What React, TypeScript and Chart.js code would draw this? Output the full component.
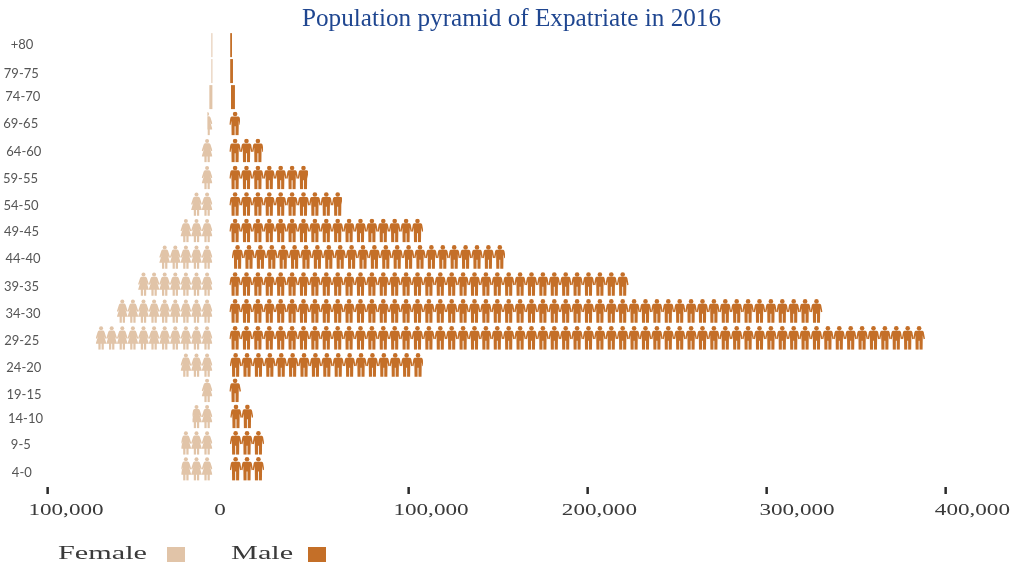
import React, { useEffect, useRef } from "react";
import { Chart, registerables } from "chart.js";

Chart.register(...registerables);

const ageGroups = ["+80","79-75","74-70","69-65","64-60","59-55","54-50","49-45","44-40","39-35","34-30","29-25","24-20","19-15","14-10","9-5","4-0"];
const femaleValues = [550,550,1700,2800,6100,6100,12300,18000,30100,41800,54000,65200,17800,6100,11100,17300,17300];
const maleValues = [1000,1550,2200,5900,18800,43900,62900,108200,152600,223800,332100,389200,107900,6500,12700,19000,19000];
const femaleGap = [-9500,-9500,-9500,-9500,-9500,-9500,-9500,-9500,-9500,-9500,-9500,-9500,-9500,-9500,-9500,-9500,-9500];
const maleGap = [450,450,900,0,0,0,0,0,1400,0,0,0,300,0,500,300,300];
const xTickValues = [-100000,0,100000,200000,300000,400000];

const xTickNudge = [-3,0,0,0,0,0];
const xLabelNudge = [15.6,-9.4,22.6,12,30.6,27];
const yLabelCentre = [22,21.3,22.8,20.7,23.8,20.5,21,21.5,23,21.5,23,21.7,23.8,24,25.5,20.8,21.8];
const yLabelNudge = [-0.7,1.8,-1.7,-0.7,0.8,1,1.5,1,1.5,3.1,3.6,4.5,4.5,5.2,2.8,2.3,3.8];
const rowNudge = [-0.5,-1,-1.4,-1.4,-0.9,-0.4,-0.3,-0.3,-0.3,0.3,0.8,1.3,1.9,0.9,0.5,0.5,0];

const FEMALE = "#e1c4a8";
const MALE = "#c46f28";
const INK = "#3a3a3a";
const malePitch = 11.4;
const femalePitch = 10.6;
const solidBelowPx = 4.5;

const maleBody = "M-3.4 4.6L3.4 4.6Q4.4 4.7 4.7 6L5.9 12.6L4.5 13.1L3.7 9L3.5 23.5L0.45 23.5L0.45 14.5L-0.45 14.5L-0.45 23.5L-3.5 23.5L-3.7 9L-4.5 13.1L-5.9 12.6L-4.7 6Q-4.4 4.7-3.4 4.6Z";
const femaleBody = "M-2 4.4L2 4.4Q3.1 4.6 3.5 6L5.4 12L4.3 12.5L3.1 10L5.4 17.6L2.7 17.6L2.7 23.5L0.45 23.5L0.45 17.6L-0.45 17.6L-0.45 23.5L-2.7 23.5L-2.7 17.6L-5.4 17.6L-3.1 10L-4.3 12.5L-5.4 12L-3.5 6Q-3.1 4.6-2 4.4Z";

function stretchedText(ctx: any, text: string, x: number, y: number, size: number, sx: number, align: CanvasTextAlign) {
  ctx.save();
  ctx.translate(x, y);
  ctx.scale(sx, 1);
  ctx.font = `${size}px "Liberation Serif"`;
  ctx.fillStyle = INK;
  ctx.textAlign = align;
  ctx.textBaseline = "middle";
  ctx.fillText(text, 0, 0);
  ctx.restore();
}

const pictogramPlugin = {
  id: "pictogram",
  afterDatasetsDraw(chart: any) {
    const ctx = chart.ctx;
    const male = new Path2D(maleBody);
    const female = new Path2D(femaleBody);
    const drawRow = (datasetIndex: number, color: string, body: Path2D, headR: number, pitch: number) => {
      const sign = datasetIndex === 1 ? -1 : 1;
      chart.getDatasetMeta(datasetIndex).data.forEach((bar: any, i: number) => {
        const { x, y, base, height } = bar.getProps(["x", "y", "base", "height"], true);
        const left = Math.min(x, base);
        const width = Math.abs(x - base);
        const top = y - height / 2 + rowNudge[i];
        ctx.save();
        ctx.fillStyle = color;
        if (width < solidBelowPx) {
          ctx.fillRect(left, top, width, height);
        } else {
          ctx.beginPath();
          ctx.rect(left, top, width, height);
          ctx.clip();
          const n = Math.ceil(width / pitch - 0.15);
          for (let k = 0; k < n; k++) {
            ctx.save();
            ctx.translate(base + sign * (k + 0.5) * pitch, top + 0.3);
            ctx.beginPath();
            ctx.arc(0, 2.2, headR, 0, Math.PI * 2);
            ctx.fill();
            ctx.fill(body);
            ctx.restore();
          }
        }
        ctx.restore();
      });
    };
    drawRow(1, FEMALE, female, 2.0, femalePitch);
    drawRow(3, MALE, male, 2.3, malePitch);

    const xs = chart.scales.x;
    ctx.save();
    xs.ticks.forEach((t: any, i: number) => {
      const px = xs.getPixelForValue(t.value);
      if (t.value !== 0) {
        ctx.fillStyle = "#2b2b2b";
        ctx.fillRect(px + xTickNudge[i] - 1, 487, 2.5, 7);
      }
      stretchedText(ctx, Math.abs(t.value).toLocaleString("en-US"), px + xLabelNudge[i], 510.5, 17, 1.36, "center");
    });
    ctx.font = '13px Lato';
    ctx.fillStyle = "#555555";
    ctx.textAlign = "center";
    ctx.textBaseline = "middle";
    const ys = chart.scales.y;
    ageGroups.forEach((g, i) => {
      ctx.fillText(g, yLabelCentre[i], ys.getPixelForValue(i) + yLabelNudge[i]);
    });
    stretchedText(ctx, chart.data.datasets[1].label, 58, 554, 18, 1.68, "left");
    ctx.fillStyle = FEMALE;
    ctx.fillRect(167, 547, 18, 15);
    stretchedText(ctx, chart.data.datasets[3].label, 231, 554, 18, 1.68, "left");
    ctx.fillStyle = MALE;
    ctx.fillRect(308, 547, 18, 15);
    ctx.restore();
  },
};

export default function App() {
  const ref = useRef<HTMLCanvasElement>(null);
  useEffect(() => {
    const hidden = "rgba(0,0,0,0)";
    const common = { backgroundColor: hidden, borderWidth: 0, barThickness: 24, stack: "all" };
    const chart = new Chart(ref.current as HTMLCanvasElement, {
      type: "bar",
      data: {
        labels: ageGroups,
        datasets: [
          { label: "Female offset", data: femaleGap, ...common },
          { label: "Female", data: femaleValues.map((v) => -v), ...common },
          { label: "Male offset", data: maleGap, ...common },
          { label: "Male", data: maleValues, ...common },
        ],
      },
      options: {
        indexAxis: "y",
        responsive: false,
        animation: false,
        layout: { padding: { left: 6, right: 1, top: 7.2, bottom: 82 } },
        plugins: {
          legend: { display: false },
          tooltip: { enabled: false },
          title: {
            display: true,
            text: "Population pyramid of Expatriate in 2016",
            color: "#1f4690",
            font: { family: '"Liberation Serif"', size: 25.2, weight: "normal", lineHeight: 1 },
            padding: 0,
          },
        },
        scales: {
          x: {
            stacked: true,
            min: -124800,
            max: 440000,
            afterBuildTicks: (s: any) => { s.ticks = xTickValues.map((value) => ({ value })); },
            ticks: { display: false },
            grid: { display: false, drawTicks: false },
            border: { display: false },
          },
          y: {
            stacked: true,
            ticks: { display: false },
            grid: { display: false, drawTicks: false },
            border: { display: false },
          },
        },
      },
      plugins: [pictogramPlugin],
    } as any);
    return () => chart.destroy();
  }, []);
  return (
    <div style={{ position: "absolute", left: 0, top: 0, width: 1018, height: 564, background: "#fff" }}>
      <canvas ref={ref} width={1018} height={564} style={{ display: "block" }} />
    </div>
  );
}
